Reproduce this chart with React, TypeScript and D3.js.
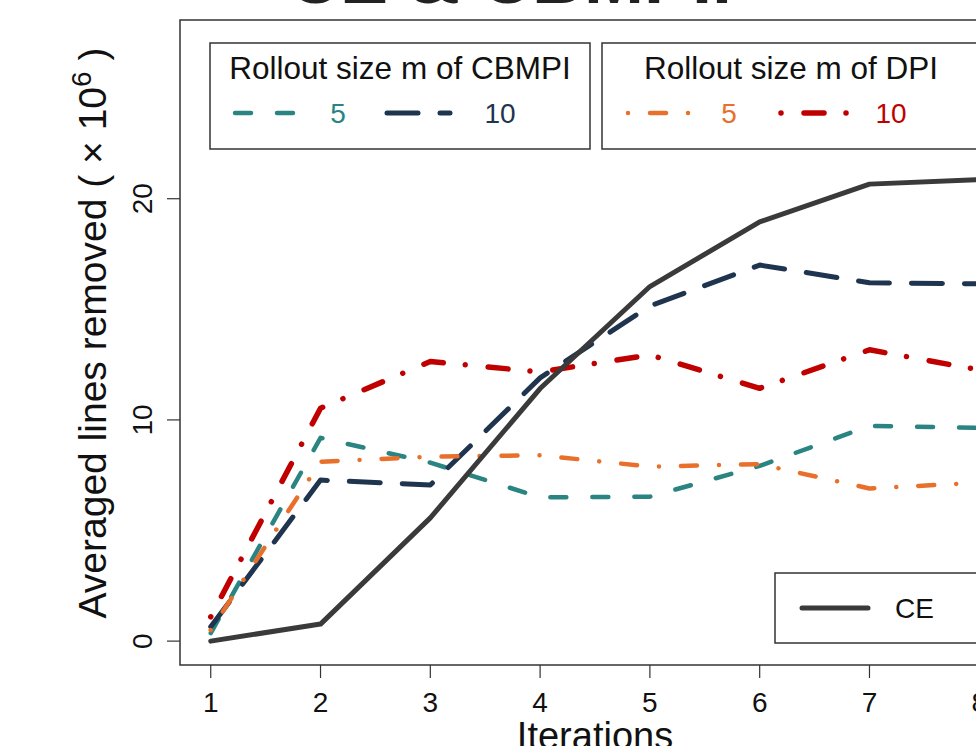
import React from "react";
import * as d3 from "d3";

// Iterations on the x axis
const iterations = [1, 2, 3, 4, 5, 6, 7, 8];
const xTicks = [1, 2, 3, 4, 5, 6, 7, 8];
const yTicks = [0, 10, 20];

// Averaged lines removed (x 10^6)
const ceValues = [0, 0.77, 5.57, 11.42, 16.03, 18.95, 20.66, 20.86];
const cbmpi5Values = [0.36, 9.19, 8.07, 6.5, 6.53, 7.92, 9.73, 9.64];
const cbmpi10Values = [0.65, 7.28, 7.06, 11.9, 15.15, 17.0, 16.2, 16.15];
const dpi5Values = [0.5, 8.11, 8.34, 8.4, 7.89, 8.0, 6.9, 7.16];
const dpi10Values = [1.1, 10.53, 12.64, 12.17, 12.94, 11.43, 13.17, 12.26];

const rolloutSizes = ["5", "10"];

const FONT = "'Liberation Sans', Arial, Helvetica, sans-serif";

type SeriesStyle = { color: string; width: number; dash: string | null };

const styles: Record<string, SeriesStyle> = {
  ce: { color: "#3a3a3a", width: 5, dash: null },
  cbmpi5: { color: "#2a8582", width: 4.5, dash: "16,26" },
  cbmpi10: { color: "#1e344f", width: 5, dash: "31,22" },
  dpi5: { color: "#e8702a", width: 4.5, dash: "0.01,22,16,22" },
  dpi10: { color: "#c00000", width: 5.5, dash: "0.01,23,20,22" },
};

export default function App() {
  const width = 976;
  const height = 746;
  const plot = { left: 180, right: 1010, top: 20, bottom: 665 };

  const x = d3.scaleLinear().domain([0.72, 8.28]).range([plot.left, plot.right]);
  const y = d3.scaleLinear().domain([-1.08, 28.08]).range([plot.bottom, plot.top]);

  const line = d3
    .line<number>()
    .x((_, i) => x(iterations[i]))
    .y((d) => y(d));

  const series: { key: string; values: number[] }[] = [
    { key: "cbmpi5", values: cbmpi5Values },
    { key: "cbmpi10", values: cbmpi10Values },
    { key: "dpi5", values: dpi5Values },
    { key: "dpi10", values: dpi10Values },
    { key: "ce", values: ceValues },
  ];

  const legendSample = (key: string, x1: number, x2: number, yy: number) => {
    const s = styles[key];
    return (
      <line
        x1={x1}
        x2={x2}
        y1={yy}
        y2={yy}
        stroke={s.color}
        strokeWidth={s.width}
        strokeLinecap="round"
        strokeDasharray={s.dash ?? undefined}
      />
    );
  };

  const cbmpiKeys = ["cbmpi5", "cbmpi10"];
  const dpiKeys = ["dpi5", "dpi10"];

  return (
    <svg
      width={width}
      height={height}
      style={{ position: "absolute", left: 0, top: 0, background: "#fff" }}
      fontFamily={FONT}
    >
      <rect x={0} y={0} width={width} height={height} fill="#fff" />

      {/* Title */}
      <text x={510} y={3} textAnchor="middle" fontSize={72} fontWeight="bold" fill="#222">
        CE &amp; CBMPI.
      </text>

      {/* Plot frame */}
      <rect
        x={plot.left}
        y={plot.top}
        width={plot.right - plot.left}
        height={plot.bottom - plot.top}
        fill="none"
        stroke="#333"
        strokeWidth={1.5}
      />

      {/* X axis */}
      {xTicks.map((t) => (
        <g key={"xt" + t}>
          <line x1={x(t)} x2={x(t)} y1={plot.bottom} y2={plot.bottom + 13} stroke="#333" strokeWidth={1.2} />
          <text x={x(t)} y={712} textAnchor="middle" fontSize={28} fill="#111">
            {t}
          </text>
        </g>
      ))}
      <text x={(plot.left + plot.right) / 2} y={749} textAnchor="middle" fontSize={38} fill="#111">
        Iterations
      </text>

      {/* Y axis */}
      {yTicks.map((t) => (
        <g key={"yt" + t}>
          <line x1={plot.left - 13} x2={plot.left} y1={y(t)} y2={y(t)} stroke="#333" strokeWidth={1.2} />
          <text
            transform={`translate(${152},${y(t)}) rotate(-90)`}
            textAnchor="middle"
            fontSize={28}
            fill="#111"
          >
            {t}
          </text>
        </g>
      ))}
      <text
        transform={`translate(${106},${333}) rotate(-90)`}
        textAnchor="middle"
        fontSize={39}
        fill="#111"
      >
        Averaged lines removed ( × 10
        <tspan baselineShift="super" fontSize={28}>
          6
        </tspan>
        <tspan> )</tspan>
      </text>

      {/* Series */}
      {series.map((s) => {
        const st = styles[s.key];
        return (
          <path
            key={s.key}
            d={line(s.values) ?? ""}
            fill="none"
            stroke={st.color}
            strokeWidth={st.width}
            strokeLinecap="round"
            strokeLinejoin="round"
            strokeDasharray={st.dash ?? undefined}
          />
        );
      })}

      {/* CBMPI legend */}
      <rect x={210} y={43} width={380} height={106} fill="#fff" stroke="#333" strokeWidth={1.5} />
      <text x={400} y={79} textAnchor="middle" fontSize={31.5} fill="#111">
        Rollout size m of CBMPI
      </text>
      {cbmpiKeys.map((k, i) => {
        const x0 = 235 + i * 152;
        return (
          <g key={k}>
            {legendSample(k, x0, x0 + 63, 113)}
            <text x={x0 + 103 + i * 10} y={123} textAnchor="middle" fontSize={28} fill={styles[k].color}>
              {rolloutSizes[i]}
            </text>
          </g>
        );
      })}

      {/* DPI legend */}
      <rect x={602} y={43} width={378} height={106} fill="#fff" stroke="#333" strokeWidth={1.5} />
      <text x={791} y={79} textAnchor="middle" fontSize={31.5} fill="#111">
        Rollout size m of DPI
      </text>
      {dpiKeys.map((k, i) => {
        const x0 = 628 + i * 153;
        return (
          <g key={k}>
            {legendSample(k, x0, x0 + 70, 113)}
            <text x={x0 + 101 + i * 9} y={123} textAnchor="middle" fontSize={28} fill={styles[k].color}>
              {rolloutSizes[i]}
            </text>
          </g>
        );
      })}

      {/* CE legend */}
      <rect x={775} y={573} width={260} height={70} fill="#fff" stroke="#333" strokeWidth={1.5} />
      {legendSample("ce", 802, 868, 608)}
      <text x={895} y={618} fontSize={28} fill="#111">
        CE
      </text>
    </svg>
  );
}
